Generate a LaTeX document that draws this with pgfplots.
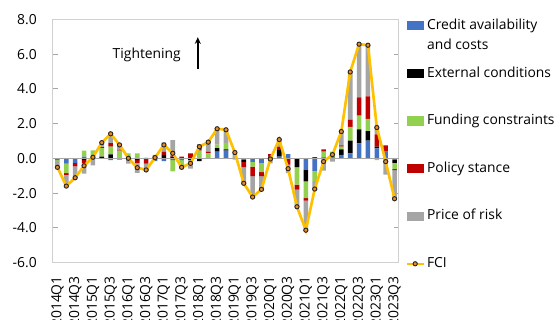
\documentclass[border=0pt]{standalone}
\usepackage{pgfplots}
\pgfplotsset{compat=1.18}
\usepackage{pgfplotstable}
\usepackage{fontspec}
\setmainfont{Open Sans}
\usetikzlibrary{arrows.meta}

\definecolor{cblue}{HTML}{4472C4}
\definecolor{cblack}{HTML}{000000}
\definecolor{cgreen}{HTML}{92D050}
\definecolor{cred}{HTML}{C00000}
\definecolor{cgray}{HTML}{A5A5A5}
\definecolor{fcigold}{HTML}{FFC000}
\definecolor{mkfill}{HTML}{EE8A22}
\definecolor{framegray}{HTML}{D0D0D0}
\definecolor{zerogray}{HTML}{A6A6A6}

\pgfplotstableread{
x  cr    ext   fund  pol   risk  fci
0  -0.10  0.00 -0.05  0.00 -0.35 -0.51
1  -0.30  0.00 -0.55 -0.10 -0.65 -1.59
2  -0.25  0.00  0.00 -0.20 -0.65 -1.11
3   0.10 -0.10  0.35 -0.15 -0.62 -0.42
4   0.02  0.00  0.45  0.00 -0.40  0.07
5   0.00  0.10  0.50  0.05  0.26  0.91
6  -0.10  0.23  0.45  0.20  0.64  1.42
7   0.00 -0.05  0.45  0.05  0.33  0.78
8   0.00  0.00  0.30 -0.10 -0.20  0.01
9   0.00 -0.10  0.30 -0.15 -0.58 -0.53
10  0.00  0.00  0.05 -0.30 -0.41 -0.66
11 -0.15  0.00  0.00  0.10  0.10  0.05
12 -0.15  0.20  0.00  0.20  0.53  0.78
13 -0.10  0.10 -0.65  0.05  0.90  0.30
14 -0.10  0.00 -0.45  0.10 -0.06 -0.51
15  0.00 -0.08  0.00  0.30 -0.50 -0.28
16  0.00 -0.15  0.45  0.25  0.13  0.68
17  0.00  0.00  0.30  0.10  0.54  0.94
18  0.40  0.20  0.20  0.00  0.91  1.71
19  0.45  0.08  0.35  0.00  0.77  1.65
20  0.05  0.00 -0.06  0.00  0.35  0.34
21 -0.08 -0.12  0.00 -0.30 -0.93 -1.43
22 -0.20  0.00 -0.27 -0.54 -1.21 -2.22
23 -0.25  0.00 -0.54 -0.23 -0.76 -1.78
24  0.00  0.10  0.00  0.15 -0.28 -0.03
25  0.10  0.38  0.00  0.20  0.41  1.09
26  0.25  0.00  0.00 -0.35 -0.49 -0.59
27  0.00 -0.50 -1.00 -0.30 -0.98 -2.78
28 -0.65 -0.67 -0.96 -0.15 -1.70 -4.13
29 -0.72  0.00 -0.58  0.08 -0.54 -1.76
30  0.00  0.05  0.35  0.12 -0.70 -0.18
31  0.00  0.05  0.35  0.00 -0.18  0.22
32  0.20  0.33  0.15  0.08  0.79  1.55
33  0.30  0.72  0.80  0.42  2.74  4.98
34  0.87  0.80  0.80  1.04  3.07  6.58
35  1.02  0.56  0.70  1.29  2.95  6.52
36  0.58  0.10 -0.10  0.70  0.50  1.78
37  0.40  0.00  0.00  0.35 -0.93 -0.18
38 -0.08 -0.17 -0.37 -0.05 -1.65 -2.32
}\data

\pgfplotsset{
  base/.style={
    at={(39.75pt,42.98pt)}, anchor=south west,
    scale only axis, width=259.5pt, height=182.4pt,
    xmin=-0.5, xmax=38.5, ymin=-6, ymax=8,
  },
  sqlegend/.style={legend image code/.code={\fill[##1] (0pt,-0.6pt) rectangle (12.5pt,6.2pt);}},
  fcilegend/.style={legend image code/.code={\draw[##1, line width=1.3pt, mark repeat=2, mark phase=2] plot coordinates {(0pt,2.8pt) (6.25pt,2.8pt) (12.5pt,2.8pt)};}},
}

\begin{document}
\begin{tikzpicture}
\useasboundingbox (0,0) rectangle (417.75pt,240pt);
\clip (0,0) rectangle (417.75pt,240pt);

% bars and axes
\begin{axis}[base,
  ybar stacked, bar width=3.45pt,
  axis line style={draw=framegray, line width=0.75pt},
  ytick={-6,-4,...,8},
  tick align=inside, major tick length=3.75pt,
  ytick style={draw=zerogray, line width=0.75pt},
  xtick style={draw=none},
  xtick={0,2,...,38},
  xticklabels={2014Q1,2014Q3,2015Q1,2015Q3,2016Q1,2016Q3,2017Q1,2017Q3,2018Q1,2018Q3,2019Q1,2019Q3,2020Q1,2020Q3,2021Q1,2021Q3,2022Q1,2022Q3,2023Q1,2023Q3},
  tick label style={font=\fontsize{10.4}{12}\selectfont, inner sep=0pt},
  xticklabel style={rotate=90, anchor=east},
  xticklabel shift=10pt,
  yticklabel shift=12pt,
  yticklabel style={/pgf/number format/.cd, fixed, fixed zerofill, precision=1, assume math mode=true},
]
\addplot[fill=cblue, draw=none] table[x=x, y expr={max(\thisrow{cr},0)}] {\data};
\addplot[fill=cblack, draw=none] table[x=x, y expr={max(\thisrow{ext},0)}] {\data};
\addplot[fill=cgreen, draw=none] table[x=x, y expr={max(\thisrow{fund},0)}] {\data};
\addplot[fill=cred, draw=none] table[x=x, y expr={max(\thisrow{pol},0)}] {\data};
\addplot[fill=cgray, draw=none] table[x=x, y expr={max(\thisrow{risk},0)}] {\data};
\addplot[fill=cblue, draw=none] table[x=x, y expr={min(\thisrow{cr},0)}] {\data};
\addplot[fill=cblack, draw=none] table[x=x, y expr={min(\thisrow{ext},0)}] {\data};
\addplot[fill=cgreen, draw=none] table[x=x, y expr={min(\thisrow{fund},0)}] {\data};
\addplot[fill=cred, draw=none] table[x=x, y expr={min(\thisrow{pol},0)}] {\data};
\addplot[fill=cgray, draw=none] table[x=x, y expr={min(\thisrow{risk},0)}] {\data};
\end{axis}

% line, zero axis, legend, annotation
\begin{axis}[base, hide axis,
  legend style={at={(axis description cs:1,1)}, anchor=north west, xshift=5.25pt,
    draw=none, fill=none, inner sep=0pt, outer sep=0pt,
    row sep=25.7pt, column sep=2pt,
    font=\fontsize{10.4}{15}\selectfont,
    cells={anchor=base west},
    nodes={inner sep=0pt, text height=7.5pt, text depth=2.5pt}},
]
\draw[zerogray, line width=1.1pt] (axis cs:-0.5,0) -- (axis cs:38.5,0);
\addlegendimage{sqlegend, fill=cblue, draw=none}
\addlegendentry{\begin{tabular}[t]{@{}l@{}}Credit availability\\and costs\end{tabular}}
\addlegendimage{sqlegend, fill=cblack, draw=none}
\addlegendentry{External conditions}
\addlegendimage{sqlegend, fill=cgreen, draw=none}
\addlegendentry{Funding constraints}
\addlegendimage{sqlegend, fill=cred, draw=none}
\addlegendentry{Policy stance}
\addlegendimage{sqlegend, fill=cgray, draw=none}
\addlegendentry{Price of risk}
\addplot[color=fcigold, line width=2pt, mark=*, mark size=1.6pt,
  mark options={fill=mkfill, draw=black!85, line width=0.7pt}, fcilegend]
  table[x=x, y=fci] {\data};
\addlegendentry{FCI}
\node[font=\fontsize{10.4}{12}\selectfont] at (axis cs:10.07,5.94) {Tightening};
\draw[-{Stealth[length=5pt,width=4.5pt]}, line width=1.1pt] (axis cs:15.82,5.16) -- (axis cs:15.82,6.98);
\end{axis}
\end{tikzpicture}
\end{document}
